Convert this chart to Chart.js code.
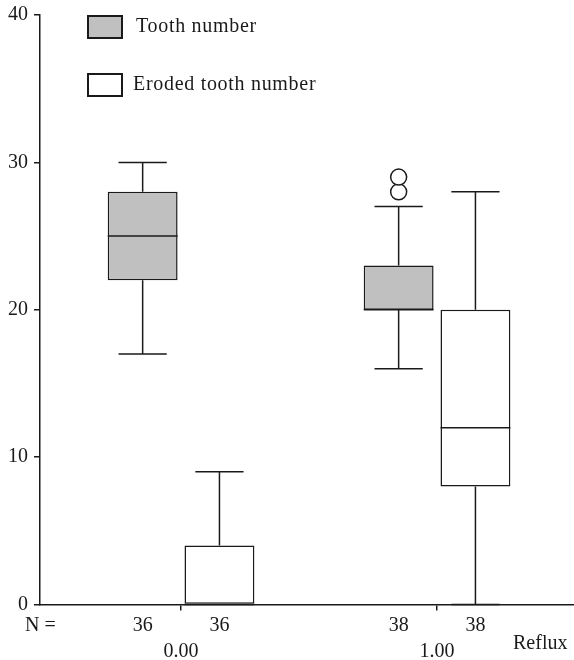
<!DOCTYPE html>
<html>
<head>
<meta charset="utf-8">
<script src="https://cdn.jsdelivr.net/npm/chart.js@4/dist/chart.umd.min.js"></script>
<style>
  html, body { margin: 0; padding: 0; background: #fff; }
  #wrap { width: 574px; height: 660px; }
</style>
</head>
<body>
<div id="wrap"><canvas id="c" width="574" height="660"></canvas></div>
<script>
// Reflux groups
const categories = ['0.00', '1.00'];
const groupValues = [0, 1];
const yTicks = [0, 10, 20, 30, 40];

// Tooth number: five-number summary per group
const toothMin = [17, 16];
const toothQ1 = [22, 20];
const toothMedian = [25, 20];
const toothQ3 = [28, 23];
const toothMax = [30, 27];
const toothOutliers = [[], [28, 29]];
const toothN = [36, 38];

// Eroded tooth number: five-number summary per group
const erodedMin = [0, 0];
const erodedQ1 = [0, 8];
const erodedMedian = [0, 12];
const erodedQ3 = [4, 20];
const erodedMax = [9, 28];
const erodedOutliers = [[], []];
const erodedN = [36, 38];

const INK = '#1a1a1a';
const FONT = '"Liberation Serif", "Times New Roman", serif';

function boxData(q1, q3) {
  return groupValues.map((x, i) => ({ x: x, y: [q1[i], q3[i]] }));
}

const summaries = [
  { min: toothMin, med: toothMedian, max: toothMax, q1: toothQ1, q3: toothQ3, out: toothOutliers, n: toothN },
  { min: erodedMin, med: erodedMedian, max: erodedMax, q1: erodedQ1, q3: erodedQ3, out: erodedOutliers, n: erodedN }
];

// whiskers, medians, outliers, legend and the N row
const boxPlotExtras = {
  id: 'boxPlotExtras',
  afterDraw(chart) {
    const ctx = chart.ctx;
    const y = chart.scales.y;
    ctx.save();
    ctx.strokeStyle = INK;
    ctx.lineWidth = 1.5;
    summaries.forEach((s, d) => {
      const meta = chart.getDatasetMeta(d);
      meta.data.forEach((bar, i) => {
        const cx = bar.x;
        const half = bar.width / 2;
        const cap = bar.width * 0.345;
        const pMin = y.getPixelForValue(s.min[i]);
        const pMax = y.getPixelForValue(s.max[i]);
        const pQ1 = y.getPixelForValue(s.q1[i]);
        const pQ3 = y.getPixelForValue(s.q3[i]);
        const pMed = y.getPixelForValue(s.med[i]);
        ctx.beginPath();
        // upper whisker
        ctx.moveTo(cx, pQ3); ctx.lineTo(cx, pMax);
        ctx.moveTo(cx - cap, pMax); ctx.lineTo(cx + cap, pMax);
        // lower whisker
        ctx.moveTo(cx, pQ1); ctx.lineTo(cx, pMin);
        ctx.moveTo(cx - cap, pMin); ctx.lineTo(cx + cap, pMin);
        // median
        ctx.moveTo(cx - half, pMed); ctx.lineTo(cx + half, pMed);
        ctx.stroke();
        // outliers
        s.out[i].forEach(v => {
          ctx.beginPath();
          ctx.arc(cx, y.getPixelForValue(v), 8, 0, Math.PI * 2);
          ctx.fillStyle = '#fff';
          ctx.fill();
          ctx.stroke();
        });
        // count under the box
        ctx.fillStyle = INK;
        ctx.font = '20px ' + FONT;
        ctx.textAlign = 'center';
        ctx.textBaseline = 'middle';
        ctx.fillText(String(s.n[i]), cx, 626);
      });
    });

    ctx.fillStyle = INK;
    ctx.font = '20px ' + FONT;
    ctx.textAlign = 'left';
    ctx.textBaseline = 'middle';
    ctx.fillText('N =', 25, 626);
    ctx.fillText('Reflux', 513, 644);

    // legend
    ctx.letterSpacing = '0.7px';
    chart.data.datasets.forEach((ds, d) => {
      const top = d === 0 ? 16 : 74;
      ctx.fillStyle = ds.backgroundColor;
      ctx.fillRect(88, top, 34, 22);
      ctx.lineWidth = 2;
      ctx.strokeStyle = INK;
      ctx.strokeRect(88, top, 34, 22);
      ctx.fillStyle = INK;
      ctx.fillText(ds.label, d === 0 ? 136 : 133, top + 11);
    });
    ctx.restore();
  }
};

new Chart(document.getElementById('c'), {
  type: 'bar',
  data: {
    datasets: [
      {
        label: 'Tooth number',
        data: boxData(toothQ1, toothQ3),
        backgroundColor: '#c0c0c0',
        borderColor: INK,
        borderWidth: 1.5,
        borderSkipped: false
      },
      {
        label: 'Eroded tooth number',
        data: boxData(erodedQ1, erodedQ3),
        backgroundColor: '#ffffff',
        borderColor: INK,
        borderWidth: 1.5,
        borderSkipped: false
      }
    ]
  },
  options: {
    responsive: false,
    animation: false,
    devicePixelRatio: 1,
    categoryPercentage: 0.6,
    barPercentage: 0.91,
    layout: { padding: { top: 15, right: 0, left: 0, bottom: 0 } },
    plugins: { legend: { display: false }, tooltip: { enabled: false } },
    scales: {
      x: {
        type: 'linear',
        offset: false,
        min: -0.551,
        max: 1.535,
        afterBuildTicks(scale) { scale.ticks = groupValues.map(v => ({ value: v })); },
        afterFit(scale) { scale.height = 55.5; scale.paddingLeft = 0; scale.paddingRight = 0; },
        border: { display: true, color: INK, width: 1.5 },
        grid: { offset: false, drawOnChartArea: false, drawTicks: true, tickLength: 6, color: INK, lineWidth: 1.5 },
        ticks: {
          autoSkip: false,
          maxRotation: 0,
          padding: 29,
          color: INK,
          font: { family: FONT, size: 20 },
          callback: (v) => categories[groupValues.indexOf(v)]
        }
      },
      y: {
        min: 0,
        max: 40,
        afterBuildTicks(scale) { scale.ticks = yTicks.map(v => ({ value: v })); },
        afterFit(scale) { scale.width = 40; scale.paddingTop = 0; scale.paddingBottom = 0; },
        border: { display: true, color: INK, width: 1.5 },
        grid: { drawOnChartArea: false, drawTicks: true, tickLength: 6, color: INK, lineWidth: 1.5 },
        ticks: {
          padding: 6,
          color: INK,
          font: { family: FONT, size: 20 }
        }
      }
    }
  },
  plugins: [boxPlotExtras]
});
</script>
</body>
</html>
